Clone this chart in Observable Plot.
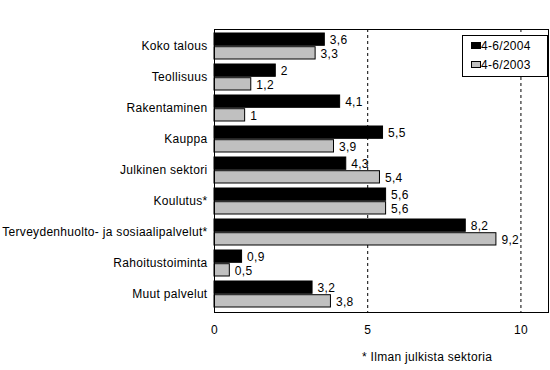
<!DOCTYPE html>
<html>
<head>
<meta charset="utf-8">
<script src="https://cdn.jsdelivr.net/npm/d3@7"></script>
<script src="https://cdn.jsdelivr.net/npm/@observablehq/plot@0.6"></script>
<style>
  html, body { margin: 0; padding: 0; background: #fff; }
  #wrap { position: relative; width: 550px; height: 370px; font-family: "Liberation Sans", Arial, sans-serif; font-size: 12px; letter-spacing: 0.3px; color: #000; }
  #chart { position: absolute; left: 0; top: 0; }
  #legend { position: absolute; left: 462px; top: 35px; width: 84px; height: 40px; border: 1px solid #000; background: #fff; }
  .item { position: absolute; left: 8px; height: 14px; line-height: 14px; white-space: nowrap; }
  .sw { display: inline-block; width: 8px; height: 5px; border: 1px solid #000; vertical-align: middle; margin-right: 0px; position: relative; top: -1px; }
  #note { position: absolute; left: 362px; top: 350px; white-space: nowrap; }
</style>
</head>
<body>
<div id="wrap">
  <div id="chart"></div>
  <div id="legend"></div>
  <div id="note">* Ilman julkista sektoria</div>
</div>
<script>
const categories = [
  "Koko talous",
  "Teollisuus",
  "Rakentaminen",
  "Kauppa",
  "Julkinen sektori",
  "Koulutus*",
  "Terveydenhuolto- ja sosiaalipalvelut*",
  "Rahoitustoiminta",
  "Muut palvelut"
];
const v2004 = [3.6, 2, 4.1, 5.5, 4.3, 5.6, 8.2, 0.9, 3.2];
const v2003 = [3.3, 1.2, 1, 3.9, 5.4, 5.6, 9.2, 0.5, 3.8];
const seriesNames = ["4-6/2004", "4-6/2003"];
const seriesColors = ["#000000", "#c0c0c0"];
const xTicks = [0, 5, 10];
const gridLines = [5, 10];

const W = 550, H = 340;
const mTop = 29, mBottom = 28, mLeft = 214, mRight = 2;
const pInner = 0.16;
const step = (H - mTop - mBottom) / categories.length;
const bw = step * (1 - pInner);
const half = bw / 2;

const rows = categories.map((c, i) => ({cat: c, a: v2004[i], b: v2003[i]}));
const fmt = v => String(v).replace(".", ",");

const chart = Plot.plot({
  width: W,
  height: H,
  marginTop: mTop,
  marginBottom: mBottom,
  marginLeft: mLeft,
  marginRight: mRight,
  style: { fontFamily: "'Liberation Sans', Arial, sans-serif", fontSize: "12px", letterSpacing: "0.3px", background: "#fff", color: "#000" },
  x: { domain: [0, 10.9], label: null },
  y: { domain: categories, type: "band", paddingInner: pInner, paddingOuter: pInner / 2, label: null },
  marks: [
    Plot.ruleX(gridLines, { stroke: "#000", strokeDasharray: "3,3", strokeWidth: 1 }),
    Plot.barX(rows, { x: "a", y: "cat", fill: seriesColors[0], stroke: "#000", insetBottom: half + 0.5 }),
    Plot.barX(rows, { x: "b", y: "cat", fill: seriesColors[1], stroke: "#000", insetTop: half + 0.5 }),
    Plot.text(rows, { x: "a", y: "cat", text: d => fmt(d.a), dy: -half / 2, dx: 5, textAnchor: "start", fill: "#000" }),
    Plot.text(rows, { x: "b", y: "cat", text: d => fmt(d.b), dy: half / 2 + 1, dx: 5, textAnchor: "start", fill: "#000" }),
    Plot.axisX({ ticks: xTicks, tickFormat: d => fmt(d), tickSize: 0, tickPadding: 13 }),
    Plot.axisY({ tickSize: 0, tickPadding: 7 }),
    Plot.frame({ stroke: "#000" })
  ]
});
document.getElementById("chart").appendChild(chart);

const legend = document.getElementById("legend");
seriesNames.forEach((name, i) => {
  const it = document.createElement("div");
  it.className = "item";
  it.style.top = (3 + i * 19) + "px";
  const sw = document.createElement("span");
  sw.className = "sw";
  sw.style.background = seriesColors[i];
  it.appendChild(sw);
  it.appendChild(document.createTextNode(name));
  legend.appendChild(it);
});
</script>
</body>
</html>
